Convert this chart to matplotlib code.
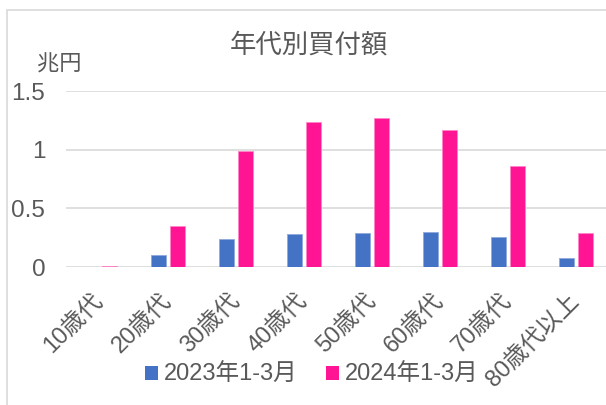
import matplotlib.pyplot as plt
import numpy as np
from matplotlib.patches import Patch, Rectangle

plt.rcParams['font.family'] = ['Liberation Sans', 'Noto Sans CJK JP']

categories = ['10歳代', '20歳代', '30歳代', '40歳代', '50歳代', '60歳代', '70歳代', '80歳代以上']
vals_2023 = [0.0, 0.10, 0.235, 0.28, 0.29, 0.30, 0.255, 0.08]
vals_2024 = [0.01, 0.35, 0.99, 1.237, 1.27, 1.17, 0.857, 0.286]
series_names = ['2023年1-3月', '2024年1-3月']
yticks = [0, 0.5, 1, 1.5]
ytick_labels = ['0', '0.5', '1', '1.5']

blue = '#4472C4'
pink = '#FF1493'
grey_text = '#595959'
grid_col = '#D9D9D9'

W, H = 606, 405
fig = plt.figure(figsize=(W / 100, H / 100), dpi=100)

# chart frame (cut off on right and bottom)
fig.patches.append(Rectangle((7 / W, -0.1), 1.2, 1 - 10 / H + 0.1,
                             transform=fig.transFigure, fill=False,
                             edgecolor=grid_col, linewidth=1.2))

ax = fig.add_axes([66 / W, 1 - 267 / H, 544 / W, 176 / H])
x = np.arange(len(categories))
w = 0.22
ax.bar(x - 0.14, vals_2023, width=w, color=blue, edgecolor='#8FAADC', linewidth=0.6)
ax.bar(x + 0.14, vals_2024, width=w, color=pink, edgecolor='#FF85C8', linewidth=0.6)

ax.set_xlim(-0.5, len(categories) - 0.5)
ax.set_ylim(0, 1.5)
ax.set_yticks(yticks)
ax.set_yticklabels(ytick_labels)
ax.yaxis.grid(True, color=grid_col, linewidth=1.2)
ax.set_axisbelow(True)
for s in ax.spines.values():
    s.set_visible(False)
ax.tick_params(axis='both', length=0, colors=grey_text)
ax.tick_params(axis='y', pad=15, labelsize=17.5)
ax.set_xticks(x)
ax.set_xticklabels(categories, rotation=45, ha='right', va='center',
                   rotation_mode='anchor', fontsize=17)
ax.tick_params(axis='x', pad=22)

fig.text(309 / W, 1 - 45 / H, '年代別買付額', ha='center', va='center',
         fontsize=19, color=grey_text)
fig.text(59 / W, 1 - 65 / H, '兆円', ha='center', va='center',
         fontsize=16, color=grey_text)

handles = [Patch(facecolor=blue), Patch(facecolor=pink)]
fig.legend(handles, series_names, loc='center', ncol=2,
           bbox_to_anchor=(312 / W, 1 - 375 / H), frameon=False,
           fontsize=17, labelcolor=grey_text, handlelength=0.55,
           handleheight=0.55, handletextpad=0.25, columnspacing=1.2)

fig.savefig('out.png', dpi=100)
